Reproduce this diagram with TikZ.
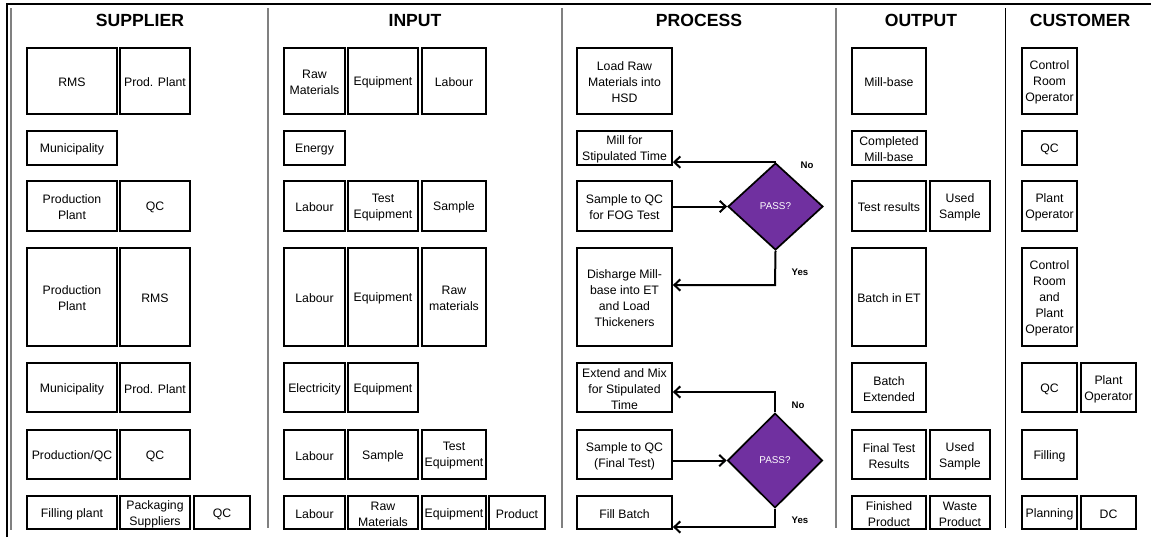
\documentclass[tikz,border=0pt]{standalone}
\usepackage{fontspec}
\setmainfont{Liberation Sans}
\usetikzlibrary{arrows.meta,shapes.geometric}
\definecolor{dpurple}{HTML}{7030A0}
\newcommand\mkbox[6]{%
 \pgfmathsetmacro\bxcx{(#2+#4)/2}\pgfmathsetmacro\bxcy{(#3+#5)/2}%
 \pgfmathsetmacro\bxty{(#3+#5)/2+1.5}%
 \pgfmathsetmacro\bxww{(#4-#2)*0.75}\pgfmathsetmacro\bxhh{(#5-#3)*0.75}%
 \node[box, minimum width=\bxww pt, minimum height=\bxhh pt] (#1) at (\bxcx,\bxcy) {};
 \node[boxtxt] (#1t) at (\bxcx,\bxty) {#6};}
\tikzset{
 box/.style={draw=black, line width=1.3pt, fill=white, inner sep=0pt},
 boxtxt/.style={inner sep=0pt, align=center, font=\fontsize{9.2}{12}\selectfont, text=black},
 hdr/.style={font=\fontsize{13.2}{15}\bfseries\selectfont},
 dec/.style={diamond, draw=black, line width=1.3pt, fill=dpurple, inner sep=0pt,
   text=white, font=\fontsize{7.4}{8}\selectfont},
 yn/.style={font=\fontsize{7.2}{8}\bfseries\selectfont},
 arr/.style={line width=1.5pt, -{Straight Barb[length=4.5pt,width=8.5pt]}},
 divg/.style={draw=gray, line width=1pt},
 divk/.style={draw=black, line width=0.7pt},
}
\begin{document}
\begin{tikzpicture}[x=0.75pt,y=-0.75pt]
\useasboundingbox (0,0) rectangle (1151,537);
% frame
\draw[line width=2.2pt] (7,537) -- (7,4) -- (1151,4);
\draw[divg] (11,8) -- (11,530);
\draw[divg] (268,8) -- (268,528);
\draw[divg] (562,8) -- (562,528);
\draw[divg] (836,8) -- (836,528);
\draw[divk] (1005,8) -- (1005,528);
% headers
\node[hdr] (hs) at (140,20.5) {SUPPLIER};
\node[hdr] (hi) at (415,20.5) {INPUT};
\node[hdr] (hp) at (699,20.5) {PROCESS};
\node[hdr] (ho) at (921,20.5) {OUTPUT};
\node[hdr] (hc) at (1080,20.5) {CUSTOMER};
% SUPPLIER
\mkbox{s1a}{27}{48}{117}{114}{RMS}
\mkbox{s1b}{120}{48}{190}{114}{Prod. Plant}
\mkbox{s2a}{27}{131}{117}{165}{Municipality}
\mkbox{s3a}{27}{181}{117}{231}{Production\\Plant}
\mkbox{s3b}{120}{181}{190}{231}{QC}
\mkbox{s4a}{27}{248}{117}{346}{Production\\Plant}
\mkbox{s4b}{120}{248}{190}{346}{RMS}
\mkbox{s5a}{27}{363}{117}{412}{Municipality}
\mkbox{s5b}{120}{363}{190}{412}{Prod. Plant}
\mkbox{s6a}{27}{430}{117}{479}{Production/QC}
\mkbox{s6b}{120}{430}{190}{479}{QC}
\mkbox{s7a}{27}{496}{117}{529}{Filling plant}
\mkbox{s7b}{120}{496}{190}{529}{Packaging\\Suppliers}
\mkbox{s7c}{194}{496}{250}{529}{QC}
% INPUT
\mkbox{i1a}{284}{48}{345}{114}{Raw\\Materials}
\mkbox{i1b}{348}{48}{418}{114}{Equipment}
\mkbox{i1c}{422}{48}{486}{114}{Labour}
\mkbox{i2a}{284}{131}{345}{165}{Energy}
\mkbox{i3a}{284}{181}{345}{231}{Labour}
\mkbox{i3b}{348}{181}{418}{231}{Test\\Equipment}
\mkbox{i3c}{422}{181}{486}{231}{Sample}
\mkbox{i4a}{284}{248}{345}{346}{Labour}
\mkbox{i4b}{348}{248}{418}{346}{Equipment}
\mkbox{i4c}{422}{248}{486}{346}{Raw\\materials}
\mkbox{i5a}{284}{363}{345}{412}{Electricity}
\mkbox{i5b}{348}{363}{418}{412}{Equipment}
\mkbox{i6a}{284}{430}{345}{479}{Labour}
\mkbox{i6b}{348}{430}{418}{479}{Sample}
\mkbox{i6c}{422}{430}{486}{479}{Test\\Equipment}
\mkbox{i7a}{284}{496}{345}{529}{Labour}
\mkbox{i7b}{348}{496}{418}{529}{Raw\\Materials}
\mkbox{i7c}{422}{496}{486}{529}{Equipment}
\mkbox{i7d}{489}{496}{545}{529}{Product}
% PROCESS
\mkbox{p1}{577}{48}{672}{114}{Load Raw\\Materials into\\HSD}
\mkbox{p2}{577}{131}{672}{165}{Mill for\\Stipulated Time}
\mkbox{p3}{577}{181}{672}{231}{Sample to QC\\for FOG Test}
\mkbox{p4}{577}{248}{672}{346}{Disharge Mill-\\base into ET\\and Load\\Thickeners}
\mkbox{p5}{577}{363}{672}{412}{Extend and Mix\\for Stipulated\\Time}
\mkbox{p6}{577}{430}{672}{479}{Sample to QC\\(Final Test)}
\mkbox{p7}{577}{496}{672}{529}{Fill Batch}
\node[dec, minimum width=71.25pt, minimum height=65.25pt] (d1) at (775.5,206.5) {PASS?};
\node[dec, minimum width=71.25pt, minimum height=71pt] (d2) at (775,460.5) {PASS?};
\coordinate (y1) at (775,285);
\coordinate (n2) at (775,392);
\coordinate (y2) at (775,527);
\draw[arr] (d1.north) -- (d1.north -| p2.east);
\draw[arr] (p3.east |- d1.west) -- (d1.west);
\draw[arr] (d1.south) -- (y1) -- (y1 -| p4.east);
\draw[arr] (d2.north) -- (n2) -- (n2 -| p5.east);
\draw[arr] (p6.east |- d2.west) -- (d2.west);
\draw[arr] (d2.south) -- (y2) -- (y2 -| p7.east);
\node[yn] (l1) at (807,165) {No};
\node[yn] (l2) at (800,272) {Yes};
\node[yn] (l3) at (798,405) {No};
\node[yn] (l4) at (800,520) {Yes};
% OUTPUT
\mkbox{o1a}{852}{48}{926}{114}{Mill-base}
\mkbox{o2a}{852}{131}{926}{165}{Completed\\Mill-base}
\mkbox{o3a}{852}{181}{926}{231}{Test results}
\mkbox{o3b}{930}{181}{990}{231}{Used\\Sample}
\mkbox{o4a}{852}{248}{926}{346}{Batch in ET}
\mkbox{o5a}{852}{363}{926}{412}{Batch\\Extended}
\mkbox{o6a}{852}{430}{926}{479}{Final Test\\Results}
\mkbox{o6b}{930}{430}{990}{479}{Used\\Sample}
\mkbox{o7a}{852}{496}{926}{529}{Finished\\Product}
\mkbox{o7b}{930}{496}{990}{529}{Waste\\Product}
% CUSTOMER
\mkbox{c1a}{1022}{48}{1077}{114}{Control\\Room\\Operator}
\mkbox{c2a}{1022}{131}{1077}{165}{QC}
\mkbox{c3a}{1022}{181}{1077}{231}{Plant\\Operator}
\mkbox{c4a}{1022}{248}{1077}{346}{Control\\Room\\and\\Plant\\Operator}
\mkbox{c5a}{1022}{363}{1077}{412}{QC}
\mkbox{c5b}{1081}{363}{1136}{412}{Plant\\Operator}
\mkbox{c6a}{1022}{430}{1077}{479}{Filling}
\mkbox{c7a}{1022}{496}{1077}{529}{Planning}
\mkbox{c7b}{1081}{496}{1136}{529}{DC}
\end{tikzpicture}
\end{document}
